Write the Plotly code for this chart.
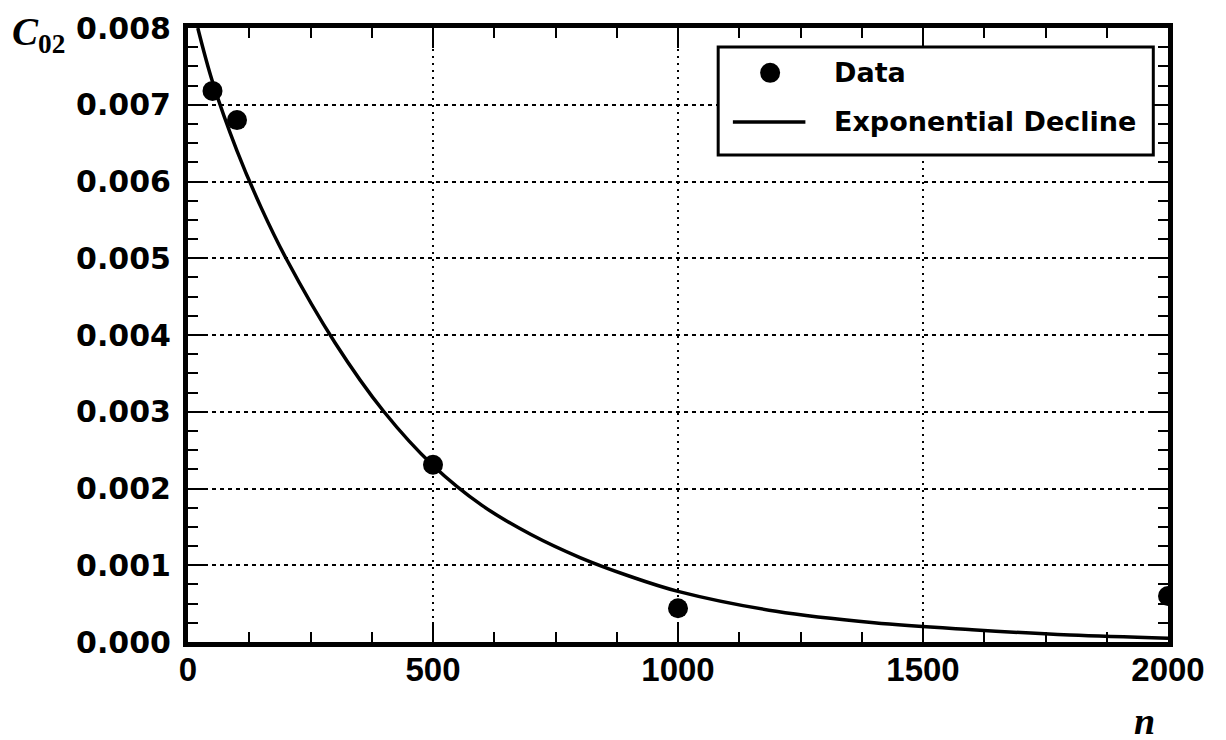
import plotly.graph_objects as go

# Data points
data_n = [50, 100, 500, 1000, 2000]
data_c = [0.00718, 0.00680, 0.00231, 0.00044, 0.00060]

# Exponential decline curve
curve_n = [20, 50, 100, 150, 200, 300, 400, 500, 600, 700, 800, 900, 1000,
           1200, 1400, 1600, 1800, 2000]
curve_c = [0.0080, 0.0073, 0.0064, 0.00565, 0.0050, 0.0039, 0.0030, 0.0023,
           0.00178, 0.00140, 0.00110, 0.00086, 0.00066,
           0.00040, 0.00025, 0.00016, 0.00009, 0.00005]

x_ticks = [0, 500, 1000, 1500, 2000]
y_ticks = [0.000, 0.001, 0.002, 0.003, 0.004, 0.005, 0.006, 0.007, 0.008]

legend_labels = ["Data", "Exponential Decline"]

SANS = "Liberation Sans, Arial, sans-serif"
WIDE = "DejaVu Sans, Verdana, sans-serif"
SERIF = "Liberation Serif, Times New Roman, serif"

fig = go.Figure()
fig.add_trace(go.Scatter(
    x=data_n, y=data_c, mode="markers", name=legend_labels[0], showlegend=False,
    marker=dict(color="black", size=20, symbol="circle"),
))
fig.add_trace(go.Scatter(
    x=curve_n, y=curve_c, mode="lines", name=legend_labels[1], showlegend=False,
    line=dict(color="black", width=3.5, shape="spline", smoothing=1.0),
))

axis_common = dict(
    showline=True, linecolor="black", linewidth=5, mirror="ticks",
    ticks="inside", ticklen=20, tickwidth=2, tickcolor="black",
    showgrid=True, gridcolor="black", gridwidth=1.5,
    zeroline=False, automargin=False,
)

fig.update_xaxes(
    **axis_common,
    range=[0, 2000], tickvals=x_ticks, ticktext=[str(v) for v in x_ticks],
    tickfont=dict(family=SANS, size=33, color="black", weight="bold"),
    griddash="2px,5px",
    ticklabelstandoff=-6,
    minor=dict(ticks="inside", ticklen=10, tickwidth=2, tickcolor="black",
               dtick=125, showgrid=False),
)
fig.update_yaxes(
    **axis_common,
    range=[0, 0.008], tickvals=y_ticks, ticktext=[f"{v:.3f}" for v in y_ticks],
    tickfont=dict(family=WIDE, size=30, color="black", weight="bold"),
    griddash="4px,4px",
    ticklabelstandoff=6,
    minor=dict(ticks="inside", ticklen=10, tickwidth=2, tickcolor="black",
               dtick=0.00025, showgrid=False),
)

# Axis titles
fig.add_annotation(
    xref="paper", yref="paper", x=-0.182, y=0.99, xanchor="left", yanchor="middle",
    text="<b><i>C</i><sub>02</sub></b>", showarrow=False,
    font=dict(family=SERIF, size=39, color="black"),
)
fig.add_annotation(
    xref="paper", yref="paper", x=0.9765, y=-0.128, xanchor="center", yanchor="middle",
    text="<b><i>n</i></b>", showarrow=False,
    font=dict(family=SERIF, size=38, color="black"),
)

# Legend drawn as a framed box
lx0, lx1, ly0, ly1 = 0.541, 0.985, 0.793, 0.969
row_y = [0.927, 0.847]
fig.add_shape(type="rect", xref="paper", yref="paper", x0=lx0, x1=lx1, y0=ly0, y1=ly1,
              line=dict(color="black", width=3), fillcolor="white", layer="above")
fig.add_shape(type="circle", xref="paper", yref="paper", xsizemode="pixel",
              ysizemode="pixel", xanchor=0.594, yanchor=row_y[0],
              x0=-10, x1=10, y0=-10, y1=10,
              line=dict(color="black", width=0), fillcolor="black", layer="above")
fig.add_shape(type="line", xref="paper", yref="paper", x0=0.556, x1=0.630,
              y0=row_y[1], y1=row_y[1], line=dict(color="black", width=3.5), layer="above")
for label, yy in zip(legend_labels, row_y):
    fig.add_annotation(
        xref="paper", yref="paper", x=0.657, y=yy, xanchor="left", yanchor="middle",
        text=f"<b>{label}</b>", showarrow=False,
        font=dict(family=WIDE, size=27, color="black"),
    )

fig.update_layout(
    width=1226, height=740,
    margin=dict(l=180, r=66, t=20, b=106),
    paper_bgcolor="white", plot_bgcolor="white",
    showlegend=False,
)

fig.write_html("out.html")
